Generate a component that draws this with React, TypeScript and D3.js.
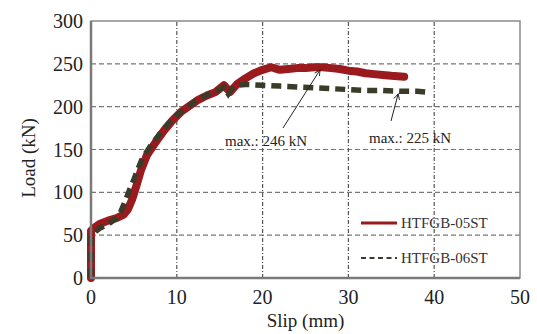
import { useEffect, useRef } from 'react';
import * as d3 from 'd3';

const width = 537;
const height = 334;
const [mt, mr, mb, ml] = [21, 17, 56, 91];

// HTFGB-05ST
const slip05 = [0, 0, 0.3, 1, 2, 3, 3.8, 4.3, 4.8, 5.3, 5.8, 6.5, 7.5, 8.5, 9.5, 10.5, 11.5, 12.5, 13.5, 14.5, 15.5, 16.2, 17, 18, 19, 20, 21, 22, 23, 24, 25, 26, 27, 28, 29, 30, 31, 32, 33, 34, 35, 36.5];
const load05 = [0, 55, 58, 63, 67, 70, 74, 80, 92, 108, 125, 143, 158, 172, 184, 194, 201, 208, 213, 217, 225, 217, 226, 233, 239, 243, 246, 243, 244, 245, 245, 246, 246, 245, 244, 242, 241, 239, 238, 237, 236, 235];

// HTFGB-06ST
const slip06 = [0, 0, 0.5, 1, 2, 3, 3.5, 4, 4.5, 5, 5.5, 6, 7, 8, 9, 10, 11, 12, 13, 14, 15, 15.5, 16, 16.5, 17, 18, 20, 22, 24, 26, 28, 30, 32, 34, 36, 38, 39];
const load06 = [0, 48, 54, 58, 63, 70, 78, 90, 103, 115, 128, 140, 155, 168, 180, 190, 198, 205, 211, 216, 220, 223, 215, 222, 225, 226, 225, 224, 223, 222, 221, 220, 219, 219, 218, 218, 217];

const xTicks = [0, 10, 20, 30, 40, 50];
const yTicks = [0, 50, 100, 150, 200, 250, 300];

const font = '"Liberation Serif", "DejaVu Serif", serif';

export default function App() {
    const ref = useRef<SVGSVGElement>(null);

    useEffect(() => {
        const svg = d3.select(ref.current);
        svg.selectAll('*').remove();

        const x = d3.scaleLinear().domain([0, 50]).range([ml, width - mr]);
        const y = d3.scaleLinear().domain([0, 300]).range([height - mb, mt]);

        // grid
        svg.append('g')
            .selectAll('line')
            .data(yTicks.slice(1, -1))
            .join('line')
            .attr('x1', x(0))
            .attr('x2', x(50))
            .attr('y1', (d) => y(d))
            .attr('y2', (d) => y(d))
            .attr('stroke', '#777')
            .attr('stroke-width', 1.2)
            .attr('stroke-dasharray', '5,3');

        svg.append('g')
            .selectAll('line')
            .data(xTicks.slice(1, -1))
            .join('line')
            .attr('x1', (d) => x(d))
            .attr('x2', (d) => x(d))
            .attr('y1', y(0))
            .attr('y2', y(300))
            .attr('stroke', '#555')
            .attr('stroke-width', 1.2)
            .attr('stroke-dasharray', '4,2,1,2');

        // curves
        const line = d3
            .line<[number, number]>()
            .x((d) => x(d[0]))
            .y((d) => y(d[1]));

        const pts05: [number, number][] = slip05.map((s, i) => [s, load05[i]]);
        const pts06: [number, number][] = slip06.map((s, i) => [s, load06[i]]);

        svg.append('path')
            .datum(pts05)
            .attr('fill', 'none')
            .attr('stroke', '#9a1a1e')
            .attr('stroke-width', 8)
            .attr('stroke-linejoin', 'round')
            .attr('stroke-linecap', 'round')
            .attr('d', line);

        svg.append('path')
            .datum(pts06)
            .attr('fill', 'none')
            .attr('stroke', '#3b3b2a')
            .attr('stroke-width', 5.5)
            .attr('stroke-dasharray', '10,6')
            .attr('d', line);

        // frame
        svg.append('rect')
            .attr('x', x(0))
            .attr('y', y(300))
            .attr('width', x(50) - x(0))
            .attr('height', y(0) - y(300))
            .attr('fill', 'none')
            .attr('stroke', '#8a8a8a')
            .attr('stroke-width', 1.5);
        svg.append('path')
            .attr('d', `M${x(0)},${y(300)}V${y(0)}H${x(50)}`)
            .attr('fill', 'none')
            .attr('stroke', '#7a7a7a')
            .attr('stroke-width', 2.5);

        // tick labels
        svg.append('g')
            .selectAll('text')
            .data(xTicks)
            .join('text')
            .attr('x', (d) => x(d))
            .attr('y', y(0) + 26)
            .attr('text-anchor', 'middle')
            .attr('font-family', font)
            .attr('font-size', 20)
            .attr('fill', '#222')
            .text((d) => d);

        svg.append('g')
            .selectAll('text')
            .data(yTicks)
            .join('text')
            .attr('x', x(0) - 8)
            .attr('y', (d) => y(d) + 7)
            .attr('text-anchor', 'end')
            .attr('font-family', font)
            .attr('font-size', 20)
            .attr('fill', '#222')
            .text((d) => d);

        // axis titles
        svg.append('text')
            .attr('x', (x(0) + x(50)) / 2)
            .attr('y', 327)
            .attr('text-anchor', 'middle')
            .attr('font-family', font)
            .attr('font-size', 19)
            .attr('fill', '#222')
            .text('Slip (mm)');

        svg.append('text')
            .attr('transform', 'translate(35, 158) rotate(-90)')
            .attr('text-anchor', 'middle')
            .attr('font-family', font)
            .attr('font-size', 19)
            .attr('fill', '#222')
            .text('Load (kN)');

        // annotations
        const defs = svg.append('defs');
        defs.append('marker')
            .attr('id', 'arr')
            .attr('viewBox', '0 0 10 10')
            .attr('refX', 9)
            .attr('refY', 5)
            .attr('markerWidth', 7)
            .attr('markerHeight', 7)
            .attr('orient', 'auto')
            .append('path')
            .attr('d', 'M1,1L9,5L1,9')
            .attr('fill', 'none')
            .attr('stroke', '#222')
            .attr('stroke-width', 1.3);

        const notes = [
            { text: 'max.: 246 kN', tx: 225, ty: 146, from: [283, 128], to: [x(26.7), y(243)] },
            { text: 'max.: 225 kN', tx: 369, ty: 143, from: [391, 121], to: [x(35.8), y(215)] }
        ];
        notes.forEach((n) => {
            svg.append('line')
                .attr('x1', n.from[0])
                .attr('y1', n.from[1])
                .attr('x2', n.to[0])
                .attr('y2', n.to[1])
                .attr('stroke', '#222')
                .attr('stroke-width', 1)
                .attr('marker-end', 'url(#arr)');
            svg.append('text')
                .attr('x', n.tx)
                .attr('y', n.ty)
                .attr('font-family', font)
                .attr('font-size', 15)
                .attr('fill', '#222')
                .text(n.text);
        });

        // legend
        const legend = [
            { name: 'HTFGB-05ST', color: '#9a1a1e', w: 3, dash: null as string | null, ly: 223 },
            { name: 'HTFGB-06ST', color: '#3b3b2a', w: 1.8, dash: '5,3.5', ly: 258 }
        ];
        legend.forEach((l) => {
            svg.append('line')
                .attr('x1', 361)
                .attr('x2', 397)
                .attr('y1', l.ly)
                .attr('y2', l.ly)
                .attr('stroke', l.color)
                .attr('stroke-width', l.w)
                .attr('stroke-dasharray', l.dash);
            svg.append('text')
                .attr('x', 401)
                .attr('y', l.ly + 5)
                .attr('font-family', font)
                .attr('font-size', 15)
                .attr('fill', '#333')
                .text(l.name);
        });
    }, []);

    return <svg ref={ref} width={width} height={height} style={{ position: 'absolute', left: 0, top: 0, background: '#fff' }} />;
}
